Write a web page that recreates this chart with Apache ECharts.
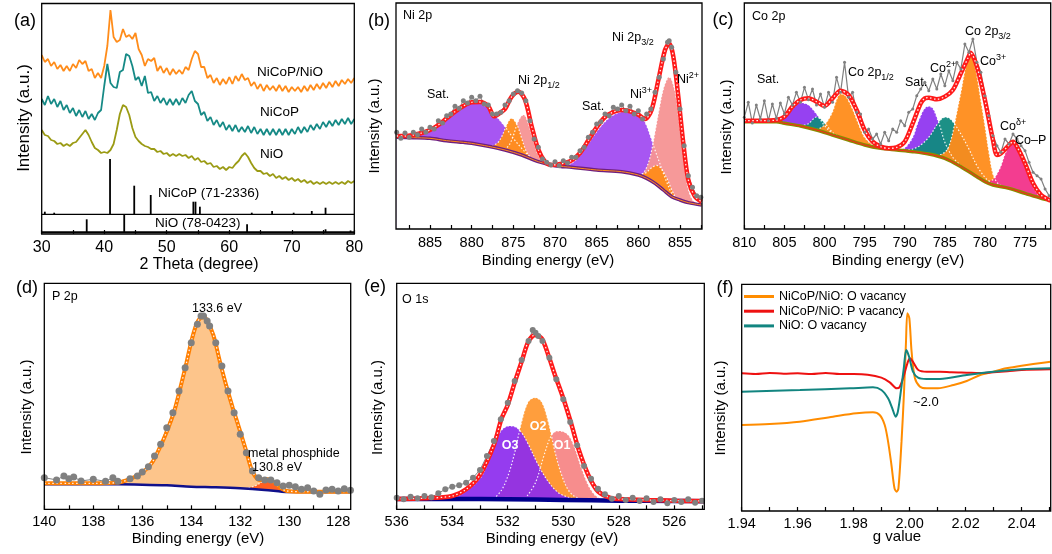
<!DOCTYPE html>
<html><head><meta charset="utf-8">
<script src="https://cdn.jsdelivr.net/npm/echarts@6/dist/echarts.min.js"></script>
<style>html,body{margin:0;padding:0;background:#fff}#c{width:1052px;height:554px}</style>
</head><body><div id="c"></div>
<script>
// ---------- (a) XRD ----------
const xrdTheta = [30,30.5,31,31.5,32,32.5,33,33.5,34,34.5,35,35.5,36,36.5,37,37.5,38,38.5,39,39.5,40,40.5,41,41.5,42,42.5,43,43.5,44,44.5,45,45.5,46,46.5,47,47.5,48,48.5,49,49.5,50,50.5,51,51.5,52,52.5,53,53.5,54,54.5,55,55.5,56,56.5,57,57.5,58,58.5,59,59.5,60,60.5,61,61.5,62,62.5,63,63.5,64,64.5,65,65.5,66,66.5,67,67.5,68,68.5,69,69.5,70,70.5,71,71.5,72,72.5,73,73.5,74,74.5,75,75.5,76,76.5,77,77.5,78,78.5,79,79.5,80];
const xrdNiCoPNiO = [179,172,175,168,172,165,169,163,168,163,170,166,174,170,173,163,165,156,161,156,168,188,224,197,192,194,205,197,199,195,201,185,179,168,175,173,176,163,168,161,166,159,165,160,164,160,167,164,175,183,180,167,167,156,159,151,156,149,155,150,157,150,158,153,160,154,156,148,152,145,150,143,149,144,148,143,149,143,148,142,147,143,147,142,148,143,149,144,150,145,151,146,152,147,153,148,154,150,155,151,156];
const xrdNiCoP = [135,129,138,130,135,127,133,124,129,121,126,118,124,117,123,115,120,114,121,124,148,170,151,147,146,162,164,180,178,168,154,157,148,158,141,142,133,138,131,136,129,135,129,135,129,136,131,139,143,133,130,119,122,113,117,109,114,107,112,104,109,103,109,102,107,102,108,101,107,100,105,99,105,99,105,99,105,99,105,99,105,100,107,101,107,102,109,104,110,105,112,107,113,108,114,109,115,110,116,110,115];
const xrdNiO = [104,99,98,94,93,90,91,88,90,88,91,92,96,100,104,99,92,86,84,81,82,81,84,90,104,120,129,127,119,106,97,93,90,88,87,85,85,82,83,80,81,78,80,78,80,78,79,76,78,74,76,72,73,70,71,67,68,65,67,64,67,66,70,73,78,81,77,71,66,63,63,60,61,58,60,56,58,55,57,54,56,53,55,52,54,51,53,50,52,50,52,50,52,50,52,50,52,50,53,51,53];
const ncpRefPos = [30.5,32,40.93,44.8,47.44,54.26,54.6,55.3,63.6,66.85,70.3,73.2,75.4];
const ncpRefTop = [22.3,21.3,75,48.3,39,32.3,32.3,27.3,21.3,23,21.3,23,26.3];
const nioRefPos = [37.2,43.2,62.85,75.4,79.4];
const nioRefTop = [14.7,19.7,9.7,4.7,3.5];
const stripTop = 19.7, nioBase = 1.7;
const xrdLabels = [30,40,50,60,70,80];
const xrdTicks = [30,35,40,45,50,55,60,65,70,75,80];

// ---------- (b) Ni 2p ----------
const niBase = [[889,275],[887,274],[885,272],[883,265],[881,260],[880,257],[878,248],[876,237],[874,222],[872,202],[870,190],[868,185],[865,177],[862,172],[860,162],[859,152],[858,137],[857,117],[856,97],[855,87],[854,79],[852.4,72]];
const niSat1 = [[889,275],[887,280],[886,288],[885,300],[884,317],[883,337],[882,357],[881,372],[880,379],[879,377],[878,362],[877,337],[876,307],[875,272],[874,242],[873,217],[872,202]];
const niPink1 = [[876.5,235],[876,240],[875.5,252],[875,280],[874.5,318],[874,340],[873.7,342],[873.5,336],[873,302],[872.5,258],[872,222],[871.5,205],[871,196]];
const niOr1 = [[878,247],[877,256],[876.5,272],[876,300],[875.5,326],[875.2,332],[875,330],[874.5,310],[874,272],[873.5,236],[873,215],[872.5,207],[872,202]];
const niSat2 = [[870,190],[869,192],[868,197],[867,222],[866,257],[865,292],[864,322],[863,342],[862,352],[861.5,354],[861,352],[860,344],[859.5,333],[859,310],[858.5,275],[858,237],[857.5,202],[857,167],[856.5,135],[856,107],[855.5,92],[855,87]];
const niPink2 = [[860,163],[859.5,166],[859,185],[858.5,225],[858,290],[857.5,360],[857,420],[856.5,452],[856.3,455],[856,448],[855.5,400],[855,300],[854.5,200],[854,120],[853.5,88],[853,77],[852.4,72]];
const niOr2 = [[860,162],[859.5,165],[859,170],[858.5,182],[858,190],[857.8,191],[857.5,188],[857,172],[856.5,148],[856,118],[855.5,95],[855,87]];
const niFit = [[889,279],[888,279],[887,282],[886,288],[885,297],[884,312],[883,332],[882,352],[881,369],[880,380],[879,381],[878,368],[877.3,338],[876.5,350],[876,360],[875.2,397],[874.4,412],[873.6,388],[872.8,308],[872,238],[871.2,202],[870.4,192],[869.2,196],[868,206],[867,228],[866,266],[865,305],[864,336],[863,351],[862,357],[861,353],[860,343],[859.2,330],[858.4,358],[857.6,447],[856.8,537],[856.3,557],[855.8,517],[855.2,397],[854.6,257],[854,147],[853.2,97],[852.4,82]];
const niRaw = [[889,290],[888.5,272],[888,288],[887.5,275],[887,290],[886.5,283],[886,300],[885.5,290],[885,305],[884.5,300],[884,325],[883.5,318],[883,340],[882.5,345],[882,368],[881.5,362],[881,385],[880.5,378],[880,395],[879.5,385],[879,398],[878.5,375],[878,372],[877.5,345],[877,345],[876.5,350],[876,372],[875.5,385],[875,405],[874.5,415],[874,408],[873.5,385],[873,325],[872.5,270],[872,245],[871.5,210],[871,200],[870.5,192],[870,202],[869.5,190],[869,205],[868.5,198],[868,215],[867.5,215],[867,235],[866.5,245],[866,275],[865.5,290],[865,315],[864.5,322],[864,345],[863.5,340],[863,365],[862.5,360],[862,372],[861.5,355],[861,368],[860.5,345],[860,355],[859.5,330],[859,345],[858.5,360],[858,410],[857.5,455],[857,510],[856.5,560],[856.3,565],[856,545],[855.5,470],[855,360],[854.5,250],[854,160],[853.5,125],[853,100],[852.5,95]];
const niLabels = [855,860,865,870,875,880,885];
const niTicks = [852.5,855,857.5,860,862.5,865,867.5,870,872.5,875,877.5,880,882.5,885,887.5];

// ---------- (c) Co 2p ----------
const coBase = [[810,322],[806,322],[805,317],[803,309],[801,297],[799,282],[797,267],[795,252],[793,242],[791,237],[789,232],[787,225],[785,212],[783,187],[781,157],[780,142],[779,132],[777,122],[775,107],[773,92],[771.8,86]];
const coSat1 = [[806.5,322],[806,324],[805,335],[804,360],[803,379],[802,372],[801,345],[800,310],[799,287],[798,276],[797,267]];
const coTeal1 = [[803,309],[802,316],[801,336],[800,318],[799,290],[798,275]];
const coOr1 = [[801,297],[800,312],[799,352],[798.5,388],[798,405],[797.5,402],[797,385],[796.5,360],[796,330],[795.5,300],[795,275],[794,252],[793,242]];
const coSat2 = [[791,237],[790,243],[789,275],[788.5,310],[788,340],[787.5,362],[787,368],[786.5,362],[786,335],[785.5,300],[785,260],[784,215],[783,190]];
const coTeal2 = [[790,237],[789,240],[788,252],[787,275],[786,312],[785.5,328],[785,335],[784.5,333],[784,322],[783,285],[782,240],[781,190],[780,155],[779,134],[778,127]];
const coOr2 = [[786,218],[785,230],[784.5,248],[784,290],[783.5,350],[783,410],[782.5,475],[782,520],[781.5,512],[781,460],[780.5,385],[780,310],[779.5,230],[779,165],[778.5,140],[778,130],[777,122]];
const coPink = [[780,142],[779,148],[778.5,165],[778,190],[777.5,225],[777,250],[776.5,259],[776,250],[775.5,225],[775,190],[774.5,155],[774,128],[773.5,108],[773,95],[772,88]];
const coFit = [[810,325],[808,325],[806,327],[805,337],[804,367],[803,387],[802,392],[801,382],[800,369],[799,392],[798,415],[797,402],[796,357],[795,297],[794,262],[793,247],[792,242],[791,245],[790,262],[789,317],[788,377],[787.5,392],[787,394],[786,389],[785,397],[784,417],[783,467],[782,519],[781.8,529],[781,487],[780,387],[779,267],[778.5,222],[778,227],[777,252],[776.5,262],[776,247],[775,197],[774,137],[773,102],[772,87],[771.8,86]];
const coRaw = [[810,335],[809.5,380],[809,318],[808.5,372],[808,330],[807.5,385],[807,325],[806.5,375],[806,332],[805.5,378],[805,345],[804.5,395],[804,372],[803.5,410],[803,380],[802.5,425],[802,388],[801.5,420],[801,372],[800.5,405],[800,365],[799.5,410],[799,380],[798.5,455],[798,410],[797.5,500],[797,395],[796.5,410],[796,350],[795.5,345],[795,290],[794.5,300],[794,270],[793.5,285],[793,255],[792.5,290],[792,265],[791.5,300],[791,290],[790.5,325],[790,310],[789.5,350],[789,360],[788.5,400],[788,420],[787.5,440],[787,415],[786.5,450],[786,420],[785.5,465],[785,430],[784.5,475],[784,445],[783.5,500],[783,480],[782.5,555],[782,530],[781.5,570],[781,500],[780.5,470],[780,400],[779.5,340],[779,280],[778.5,250],[778,230],[777.5,270],[777,255],[776.5,285],[776,270],[775.5,250],[775,235],[774.5,200],[774,170],[773.5,160],[773,150],[772.5,120],[772,100]];
const coLabels = [775,780,785,790,795,800,805,810];
const coTicks = [772.5,775,777.5,780,782.5,785,787.5,790,792.5,795,797.5,800,802.5,805,807.5,810];

// ---------- (d) P 2p ----------
const pFit = [[140,78],[139,78],[138,78],[137,80],[136.5,91],[136,110],[135.6,140],[135.3,183],[135,233],[134.7,293],[134.45,363],[134.2,438],[134,503],[133.8,553],[133.65,573],[133.5,576],[133.37,568],[133.1,523],[132.83,443],[132.56,368],[132.3,303],[132,233],[131.75,173],[131.5,113],[131.2,88],[130.93,91],[130.65,83],[130.38,66],[130.1,55],[129.5,53],[128,53],[127.5,53]];
const pBase = [[140,75],[137,75],[136,74],[135,72],[134,68],[133,66],[132,63],[131,58],[130.3,53],[130,52],[127.5,52]];
const pMetal = [[131.8,62],[131.4,70],[131.1,82],[130.9,88],[130.7,84],[130.5,72],[130.2,58],[130,53]];
const pRaw = [[140,95],[139.5,88],[139.2,100],[139,92],[138.8,97],[138.5,85],[138,90],[137.5,84],[137.2,95],[137,84],[136.5,92],[136.2,100],[136,112],[135.75,128],[135.5,160],[135.25,195],[135,245],[134.75,290],[134.5,355],[134.25,425],[134,500],[133.75,555],[133.6,580],[133.5,580],[133.35,565],[133.25,550],[133,500],[132.75,430],[132.5,355],[132.25,290],[132,225],[131.75,170],[131.5,115],[131.25,95],[131,88],[130.75,88],[130.5,80],[130.25,70],[130,72],[129.75,68],[129.5,60],[129.25,65],[129,55],[128.75,45],[128.5,58],[128.25,60],[128,55],[127.75,62],[127.5,57]];
const pLabels = [128,130,132,134,136,138,140];
const pTicks = [128,129,130,131,132,133,134,135,136,137,138,139,140];

// ---------- (e) O 1s ----------
const oFit = [[536,31],[535,33],[534,40],[533.5,60],[533,103],[532.5,193],[532.22,273],[532,313],[531.74,383],[531.5,443],[531.26,503],[531.02,523],[530.78,513],[530.54,463],[530.3,403],[530,333],[529.7,253],[529.46,183],[529.1,103],[528.74,53],[528.26,33],[528,31],[527,28],[526,26],[525,25],[524.9,25]];
const oBase = [[536,31],[534,31],[532,30],[530,28],[528,26],[526,25],[524.9,24]];
const oO3 = [[534.5,31],[534,34],[533.5,55],[533,93],[532.7,143],[532.46,200],[532.22,238],[531.95,250],[531.74,248],[531.5,230],[531.26,195],[530.9,133],[530.54,83],[530.18,50],[529.82,36],[529.5,29]];
const oO2 = [[532.5,31],[532.22,58],[531.98,103],[531.74,173],[531.5,263],[531.26,323],[531.02,335],[530.78,323],[530.54,263],[530.3,173],[530.06,103],[529.82,58],[529.58,38],[529.2,28]];
const oO1 = [[531.3,40],[531,80],[530.7,160],[530.48,213],[530.3,233],[530.12,235],[529.82,223],[529.58,183],[529.34,123],[529.1,73],[528.86,43],[528.62,31],[528.3,27]];
const oRaw = [[536,35],[535.75,30],[535.5,38],[535.25,33],[535,40],[534.75,36],[534.5,48],[534.25,60],[534,68],[533.75,72],[533.5,80],[533.25,95],[533,118],[532.75,160],[532.5,205],[532.25,270],[532,320],[531.75,385],[531.5,448],[531.25,505],[531.1,538],[531,530],[530.9,520],[530.75,505],[530.5,455],[530.25,390],[530,330],[529.75,262],[529.5,192],[529.25,130],[529,92],[528.75,62],[528.5,45],[528.25,32],[528,40],[527.75,28],[527.5,35],[527.25,25],[527,33],[526.75,22],[526.5,30],[526.25,18],[526,28],[525.75,22],[525.5,30],[525.25,20],[525,26]];
const oLabels = [526,528,530,532,534,536];
const oTicks = [525,526,527,528,529,530,531,532,533,534,535,536];

// ---------- (f) EPR ----------
const eprNames = ['NiCoP/NiO: O vacancy','NiCoP/NiO: P vacancy','NiO: O vacancy'];
const eprOrange = [[1.94,258],[1.95,261],[1.9607,268],[1.9726,283],[1.981,293],[1.9869,296],[1.9893,288],[1.9911,258],[1.9923,208],[1.9935,138],[1.9946,68],[1.9954,58],[1.996,68],[1.9971,208],[1.998,358],[1.9987,508],[1.9992,593],[1.9999,578],[2.0007,478],[2.0019,398],[2.0037,373],[2.0061,368],[2.0101,368],[2.0157,378],[2.0204,390],[2.0252,408],[2.0299,418],[2.0345,428],[2.04,436],[2.0504,448]];
const eprRed = [[1.94,413],[1.945,411],[1.95,414],[1.955,412],[1.96,413],[1.965,411],[1.97,414],[1.975,411],[1.98,411],[1.985,409],[1.9899,400],[1.9929,386],[1.9954,368],[1.9965,373],[1.998,408],[1.9992,443],[2.0001,458],[2.0013,446],[2.0031,423],[2.0061,418],[2.0108,418],[2.015,416],[2.0204,415],[2.025,414],[2.03,416],[2.035,419],[2.04,423],[2.0504,425]];
const eprTeal = [[1.94,358],[1.9608,363],[1.9787,368],[1.9869,371],[1.9899,363],[1.9923,338],[1.9938,308],[1.995,283],[1.9958,298],[1.997,368],[1.9979,428],[1.9988,483],[1.9998,463],[2.0012,418],[2.003,400],[2.006,396],[2.0108,396],[2.0204,408],[2.03,418],[2.04,425],[2.0504,428]];
const gLabels = [1.94,1.96,1.98,2.00,2.02,2.04];
const gTicks = [1.94,1.95,1.96,1.97,1.98,1.99,2.00,2.01,2.02,2.03,2.04,2.05];

// ================= build =================
const FONT = "'Liberation Sans', Arial, Helvetica, sans-serif";
const chart = echarts.init(document.getElementById('c'), null, {renderer:'canvas'});

const gridDefs = [
  {left:41.7, top:3.5, width:312.6, height:230.5},
  {left:396, top:3, width:306, height:226},
  {left:744.3, top:3, width:306.4, height:226},
  {left:44.3, top:283.3, width:306.4, height:226},
  {left:396.7, top:283.3, width:307.6, height:226},
  {left:741.7, top:284.3, width:309, height:226.7}
];
const grids = gridDefs.map(g => Object.assign({show:true, borderColor:'#000', borderWidth:1.3, backgroundColor:'transparent', z:5, containLabel:false, outerBoundsMode:'none'}, g));

function xa(gi, min, max, inv, labels, ticks, fs, margin, fmt) {
  return {type:'value', gridIndex:gi, min, max, inverse:inv, z:10,
    axisLine:{show:false}, splitLine:{show:false},
    axisTick:{show:true, inside:true, length:4, customValues:ticks, lineStyle:{color:'#000', width:1.2}},
    axisLabel:{show:true, customValues:labels, fontSize:fs, color:'#000', margin, fontFamily:FONT, formatter:fmt || (v => String(v))}};
}
const xAxes = [
  xa(0, 30, 80, false, xrdLabels, xrdTicks, 16, 6),
  xa(1, 852.36, 889.08, true, niLabels, niTicks, 14.5, 6),
  xa(2, 771.8, 810, true, coLabels, coTicks, 14.5, 6),
  xa(3, 127.49, 140, true, pLabels, pTicks, 14.5, 5),
  xa(4, 524.92, 536, true, oLabels, oTicks, 14.5, 5),
  xa(5, 1.94, 2.0504, false, gLabels, gTicks, 14.5, 5, v => Number(v).toFixed(2))
];
const yMax = [230.5, 678, 678, 678, 678, 680];
const yAxes = yMax.map((m, i) => ({type:'value', gridIndex:i, min:0, max:m, show:false}));

const series = [];
function plain(gi, data, color, width, extra) {
  return Object.assign({type:'line', xAxisIndex:gi, yAxisIndex:gi, data, symbol:'none', silent:true, animation:false,
    lineStyle:{color, width}, itemStyle:{color}}, extra || {});
}
function comp(gi, data, fill, opacity) {
  return {type:'line', xAxisIndex:gi, yAxisIndex:gi, data, symbol:'none', smooth:0.35, silent:true, animation:false,
    lineStyle:{color:'rgba(255,255,255,0.9)', width:1.2, type:[1.5,2]},
    areaStyle:{color:fill, opacity: opacity == null ? 0.9 : opacity, origin:'start'}};
}
function cover(gi, data, color, width) {
  return {type:'line', xAxisIndex:gi, yAxisIndex:gi, data, symbol:'none', smooth:0.3, silent:true, animation:false,
    lineStyle:{color, width}, areaStyle:{color:'#ffffff', opacity:1, origin:'start'}};
}
function raw(gi, data, size, lw) {
  return {type:'line', xAxisIndex:gi, yAxisIndex:gi, data, symbol:'circle', symbolSize:size, showSymbol:true, showAllSymbol:true,
    silent:true, animation:false, itemStyle:{color:'#808080'}, lineStyle:{color:'#808080', width:lw}};
}
function fit(gi, data, color, width) {
  series.push(plain(gi, data, color, width, {smooth:0.3}));
  series.push(plain(gi, data, '#fff0ee', 1.3, {smooth:0.3, lineStyle:{color:'#fff0ee', width:1.3, type:[1.5,2.5]}}));
}
function sticks(gi, pos, base, tops, width) {
  return {type:'custom', xAxisIndex:gi, yAxisIndex:gi, silent:true, animation:false,
    data: pos.map((p, i) => [p, base, tops[i]]),
    renderItem: (params, api) => {
      const a = api.coord([api.value(0), api.value(1)]);
      const b = api.coord([api.value(0), api.value(2)]);
      return {type:'line', shape:{x1:a[0], y1:a[1], x2:b[0], y2:b[1]}, style:{stroke:'#000', lineWidth:width}};
    }};
}

// (a)
series.push(plain(0, [[30, stripTop],[80, stripTop]], '#000', 1.2));
series.push(plain(0, [[30, nioBase],[80, nioBase]], '#000', 2));
series.push(sticks(0, ncpRefPos, stripTop, ncpRefTop, 1.8));
series.push(sticks(0, nioRefPos, nioBase, nioRefTop, 1.8));
series.push(plain(0, xrdTheta.map((t, i) => [t, xrdNiO[i]]), '#9b9b14', 1.8));
series.push(plain(0, xrdTheta.map((t, i) => [t, xrdNiCoP[i]]), '#168a86', 1.8));
series.push(plain(0, xrdTheta.map((t, i) => [t, xrdNiCoPNiO[i]]), '#ff8c1a', 1.8));

// (b)
series.push(comp(1, niSat1, '#9b3ff0', 0.88));
series.push(comp(1, niPink1, '#f59393', 0.95));
series.push(comp(1, niOr1, '#ff8c1a', 0.95));
series.push(comp(1, niSat2, '#9b3ff0', 0.88));
series.push(comp(1, niPink2, '#f59393', 0.95));
series.push(comp(1, niOr2, '#ff8c1a', 0.95));
series.push(cover(1, niBase, '#6e1f80', 3.5));
series.push(plain(1, niBase, '#ff8c1a', 1, {smooth:0.3}));
series.push(raw(1, niRaw, 5, 1));
fit(1, niFit, '#ff1a1a', 4.5);

// (c)
series.push(comp(2, coSat1, '#8b2cf0', 0.9));
series.push(comp(2, coTeal1, '#108a80', 0.95));
series.push(comp(2, coOr1, '#ff8c1a', 0.95));
series.push(comp(2, coSat2, '#8b2cf0', 0.9));
series.push(comp(2, coTeal2, '#108a80', 0.95));
series.push(comp(2, coOr2, '#ff8c1a', 0.95));
series.push(comp(2, coPink, '#f2338a', 0.95));
series.push(cover(2, coBase, '#8b8b00', 3.5));
series.push(plain(2, coBase, '#ff2020', 1, {smooth:0.3}));
series.push(raw(2, coRaw, 3, 1.2));
fit(2, coFit, '#ff1a1a', 4.5);

// (d)
series.push({type:'line', xAxisIndex:3, yAxisIndex:3, data:pFit, symbol:'none', smooth:0.3, silent:true, animation:false,
  lineStyle:{width:0, color:'#fdc58b'}, areaStyle:{color:'#fdc58b', opacity:1, origin:'start'}});
series.push(comp(3, pMetal, '#ff5a1a', 0.95));
series.push(cover(3, pBase, '#10108b', 2.5));
series.push(raw(3, pRaw, 7, 1));
fit(3, pFit, '#ff7f00', 4);

// (e)
series.push(comp(4, oO1, '#f78787', 0.95));
series.push(comp(4, oO2, '#ff9933', 0.95));
series.push(comp(4, oO3, '#8c2bee', 0.92));
series.push(cover(4, oBase, '#00008b', 4.5));
series.push(raw(4, oRaw, 6, 1));
fit(4, oFit, '#ff1a1a', 4.5);

// (f)
series.push(plain(5, eprOrange, '#ff8c00', 2, {name:eprNames[0], smooth:0.3}));
series.push(plain(5, eprRed, '#ee1111', 2, {name:eprNames[1], smooth:0.3}));
series.push(plain(5, eprTeal, '#128580', 2, {name:eprNames[2], smooth:0.3}));

// ---------- text ----------
function txt(x, y, text, size, opt) {
  opt = opt || {};
  const al = opt.align || 'left';
  return {type:'text', x, y, rotation: opt.rot || 0, silent:true, z:100,
    style:{text, fill: opt.fill || '#000', fontSize:size, fontFamily:FONT, fontWeight: opt.bold ? 'bold' : 'normal',
      textAlign:al, align:al, textVerticalAlign:'middle', verticalAlign:'middle', rich: opt.rich}};
}
function scr(x, y, main, s, sup, size) {
  const rich = {
    m:{fontSize:size, lineHeight:18, fontFamily:FONT, fill:'#000', color:'#000'},
    s:{fontSize:Math.round(size * 0.72), fontFamily:FONT, fill:'#000', color:'#000', verticalAlign: sup ? 'top' : 'bottom'}
  };
  return txt(x, y, '{m|' + main + '}{s|' + s + '}', size, {rich});
}
const R = Math.PI / 2;
const graphic = [
  txt(25, 21, '(a)', 18, {align:'center'}), txt(379, 21, '(b)', 18, {align:'center'}), txt(723, 20, '(c)', 18, {align:'center'}),
  txt(27, 288, '(d)', 18, {align:'center'}), txt(375, 287, '(e)', 18, {align:'center'}), txt(725, 288, '(f)', 18, {align:'center'}),
  // axis titles
  txt(199, 265, '2 Theta (degree)', 16, {align:'center'}), txt(24.5, 118, 'Intensity (a.u.)', 17, {align:'center', rot:R}),
  txt(548, 261, 'Binding energy (eV)', 15, {align:'center'}), txt(375, 126, 'Intensity (a.u.)', 15, {align:'center', rot:R}),
  txt(898, 261, 'Binding energy (eV)', 15, {align:'center'}), txt(727, 127, 'Intensity (a.u.)', 15, {align:'center', rot:R}),
  txt(198, 539, 'Binding energy (eV)', 15, {align:'center'}), txt(27, 407, 'Intensity (a.u.)', 15, {align:'center', rot:R}),
  txt(552, 539, 'Binding energy (eV)', 15, {align:'center'}), txt(378, 407.5, 'Intensity (a.u.)', 15, {align:'center', rot:R}),
  txt(897, 537, 'g value', 15, {align:'center'}), txt(721, 408, 'Intensity (a.u.)', 15, {align:'center', rot:R}),
  // (a)
  txt(257, 72, 'NiCoP/NiO', 13.5), txt(260, 112, 'NiCoP', 13.5), txt(260, 154, 'NiO', 13.5),
  txt(158, 193, 'NiCoP (71-2336)', 13.5), txt(155, 223.5, 'NiO (78-0423)', 13.5),
  // (b)
  txt(403, 16, 'Ni 2p', 12.5), txt(427, 95, 'Sat.', 12.5), scr(518, 81, 'Ni 2p', '1/2', false, 12.5),
  txt(582, 107, 'Sat.', 12.5), scr(630, 95, 'Ni', '3+', true, 12.5), scr(612, 38, 'Ni 2p', '3/2', false, 12.5),
  scr(677, 80, 'Ni', '2+', true, 12.5),
  // (c)
  txt(752, 16.7, 'Co 2p', 12.5), txt(757, 80, 'Sat.', 12.5), scr(848, 73, 'Co 2p', '1/2', false, 12.5),
  txt(905, 83, 'Sat.', 12.5), scr(930, 69, 'Co', '2+', true, 12.5), scr(965, 32, 'Co 2p', '3/2', false, 12.5),
  scr(980, 62, 'Co', '3+', true, 12.5), scr(1000, 127, 'Co', 'δ+', true, 12.5), txt(1015, 141, 'Co–P', 12.5),
  // (d)
  txt(52, 297, 'P 2p', 12.5), txt(192, 308.5, '133.6 eV', 12.5), txt(248, 454, 'metal phosphide', 12.5), txt(252, 468, '130.8 eV', 12.5),
  // (e)
  txt(402, 300, 'O 1s', 12.5),
  txt(510, 446, 'O3', 12.5, {align:'center', fill:'#fff', bold:true}),
  txt(538, 427, 'O2', 12.5, {align:'center', fill:'#fff', bold:true}),
  txt(562, 446, 'O1', 12.5, {align:'center', fill:'#fff', bold:true}),
  // (f)
  txt(913, 402.5, '~2.0', 13)
];

chart.setOption({
  animation:false,
  backgroundColor:'#ffffff',
  textStyle:{fontFamily:FONT},
  grid:grids, xAxis:xAxes, yAxis:yAxes, series,
  legend:{data:eprNames, orient:'vertical', left:744, top:289.5, itemWidth:30, itemHeight:3, itemGap:0.7, icon:'rect',
    selectedMode:false, padding:0, textStyle:{fontSize:12.5, fontFamily:FONT, color:'#000', lineHeight:14}},
  graphic
});
</script></body></html>
